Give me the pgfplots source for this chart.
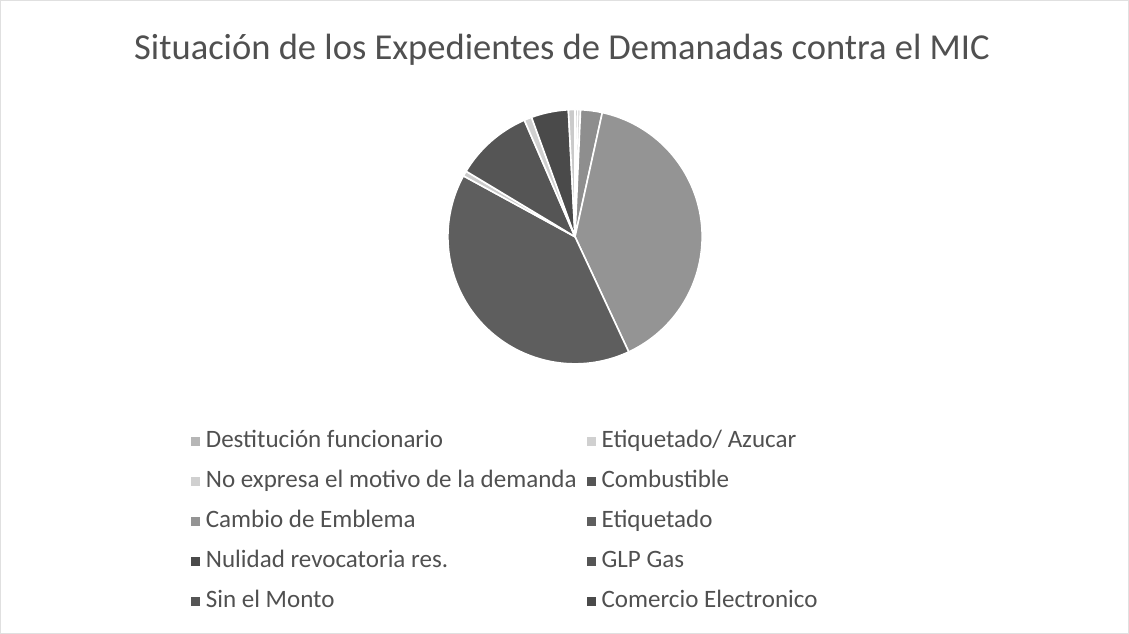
\documentclass[border=0pt]{standalone}
\usepackage{pgfplots}
\usepackage{pgfplotstable}
\pgfplotsset{compat=1.18}
\usepackage{fontspec}
\setmainfont{Carlito}

\definecolor{c1}{HTML}{C4C4C4}
\definecolor{c2}{HTML}{D0D0D0}
\definecolor{c3}{HTML}{8E8E8E}
\definecolor{c4}{HTML}{949494}
\definecolor{c5}{HTML}{5E5E5E}
\definecolor{c6}{HTML}{CCCCCC}
\definecolor{c7}{HTML}{555555}
\definecolor{c8}{HTML}{D0D0D0}
\definecolor{c9}{HTML}{4A4A4A}
\definecolor{c10}{HTML}{CACACA}
\definecolor{txt}{HTML}{505050}

% values read as shares of the pie (degrees of 360)
\pgfplotstableread[col sep=comma]{
value,colour
1.2,c1
1.3,c2
9.9,c3
142.6,c4
143.6,c5
2.4,c6
35.5,c7
3.5,c8
17.0,c9
3.0,c10
}\piedata

\pgfplotsset{
  sq/.style={legend image code/.code={\fill[color=#1,draw=none] (0pt,-4.5pt) rectangle (9pt,4.5pt); \path[draw=none,fill=none] (0pt,0pt) rectangle (13pt,0.1pt);}},
}

\begin{document}
\begin{tikzpicture}
\begin{axis}[
  x=1pt, y=1pt,
  xmin=0, xmax=1129, ymin=0, ymax=634,
  hide axis,
  clip=false,
  legend columns=2,
  legend cell align=left,
  legend style={
    at={(axis cs:188,208)}, anchor=north west,
    draw=none, fill=none,
    font=\fontsize{25}{29}\selectfont\color{txt},
    nodes={text height=17pt, text depth=6pt},
    row sep=13pt,
    /tikz/every even column/.append style={column sep=8pt},
  },
]
% frame of the chart area
\draw[color=black!12, line width=1pt] (axis cs:1,1) rectangle (axis cs:1128,633);

% pie slices, clockwise from 12 o'clock
\pgfplotstablegetrowsof{\piedata}
\pgfmathtruncatemacro{\nrows}{\pgfplotsretval-1}
\def\cum{0}
\pgfplotsforeachungrouped \i in {0,...,\nrows}{%
  \pgfplotstablegetelem{\i}{value}\of{\piedata}\let\val\pgfplotsretval
  \pgfplotstablegetelem{\i}{colour}\of{\piedata}\let\col\pgfplotsretval
  \pgfmathsetmacro{\sa}{90-\cum}%
  \pgfmathsetmacro{\ea}{90-\cum-\val}%
  \pgfmathsetmacro{\newcum}{\cum+\val}%
  \global\let\cum\newcum
  \edef\temp{\noexpand\filldraw[fill=\col, draw=white, line width=1.6pt, line join=round]
    (axis cs:575,397) -- ++(\sa:127pt) arc[start angle=\sa, end angle=\ea, radius=127pt] -- cycle;}%
  \temp
}

\node[text=txt, font=\fontsize{36.5}{42}\selectfont, anchor=base] at (axis cs:562,574) {Situación de los Expedientes de Demanadas contra el MIC};

\addlegendimage{sq=c1!80!gray}
\addlegendentry{Destitución funcionario}
\addlegendimage{sq=c2}
\addlegendentry{Etiquetado/ Azucar}
\addlegendimage{sq=c2}
\addlegendentry{No expresa el motivo de la demanda}
\addlegendimage{sq=c7}
\addlegendentry{Combustible}
\addlegendimage{sq=c4}
\addlegendentry{Cambio de Emblema}
\addlegendimage{sq=c5}
\addlegendentry{Etiquetado}
\addlegendimage{sq=c9}
\addlegendentry{Nulidad revocatoria res.}
\addlegendimage{sq=c7}
\addlegendentry{GLP Gas}
\addlegendimage{sq=c7}
\addlegendentry{Sin el Monto}
\addlegendimage{sq=c9}
\addlegendentry{Comercio Electronico}
\end{axis}
\end{tikzpicture}
\end{document}
